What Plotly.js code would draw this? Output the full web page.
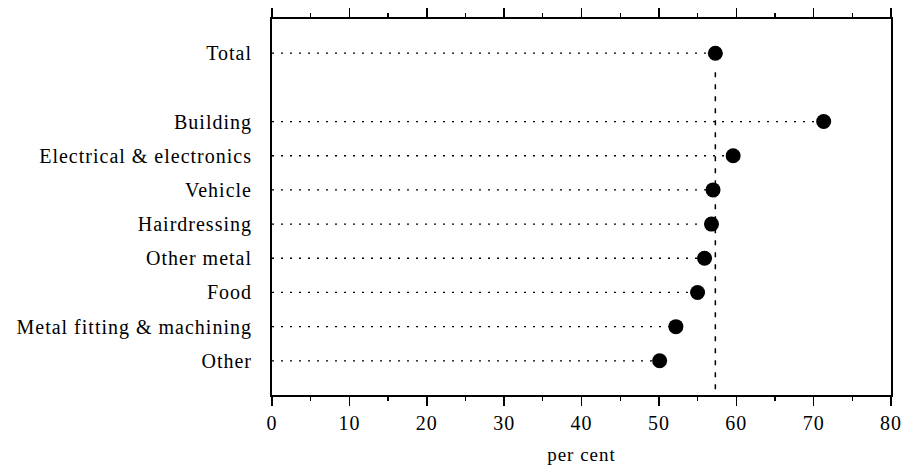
<!DOCTYPE html>
<html>
<head>
<meta charset="utf-8">
<script src="https://cdn.plot.ly/plotly-3.0.1.min.js"></script>
<style>
html,body{margin:0;padding:0;background:#fff;}
#chart{width:906px;height:468px;}
#chart text{letter-spacing:1px;}
</style>
</head>
<body>
<div id="chart"></div>
<script>
// Data
const categories = ["Total", "Building", "Electrical & electronics", "Vehicle", "Hairdressing", "Other metal", "Food", "Metal fitting & machining", "Other"];
const positions = [10, 8, 7, 6, 5, 4, 3, 2, 1];
const values = [57.3, 71.3, 59.6, 57.0, 56.8, 55.9, 55.0, 52.2, 50.1];
const xTickVals = [0, 10, 20, 30, 40, 50, 60, 70, 80];

// Build dotted leader lines from the data
const lx = [], ly = [];
for (let i = 0; i < values.length; i++) {
  lx.push(0, values[i], null);
  ly.push(positions[i], positions[i], null);
}
const totalVal = values[0];
const totalPos = positions[0];

const traces = [
  {x: lx, y: ly, mode: 'lines', type: 'scatter', hoverinfo: 'skip',
   line: {color: '#000', width: 1.3, dash: '2px,7px'}, showlegend: false},
  {x: [totalVal, totalVal], y: [totalPos - 0.56, 0], mode: 'lines', type: 'scatter',
   line: {color: '#000', width: 1.5, dash: '5px,7px'}, showlegend: false, hoverinfo: 'skip'},
  {x: values, y: positions, mode: 'markers', type: 'scatter',
   marker: {color: '#000', size: 15}, showlegend: false}
];

const FONT = "'Liberation Serif', 'Times New Roman', 'DejaVu Serif', Times, serif";

const layout = {
  width: 906, height: 468,
  margin: {l: 272, r: 15, t: 19, b: 73},
  paper_bgcolor: '#fff', plot_bgcolor: '#fff',
  font: {family: FONT, color: '#000', size: 20},
  xaxis: {
    range: [0, 80], tickvals: xTickVals, ticktext: xTickVals.map(String),
    showgrid: false, zeroline: false, showline: true, linecolor: '#000', linewidth: 2,
    mirror: 'ticks', ticks: 'outside', ticklen: 9, tickwidth: 1.5, tickcolor: '#000',
    minor: {dtick: 5, tick0: 0, ticks: 'outside', ticklen: 4, tickwidth: 1.2, tickcolor: '#000', showgrid: false},
    tickfont: {family: FONT, size: 20},
    title: {text: 'per cent', font: {family: FONT, size: 19}, standoff: 15}
  },
  yaxis: {
    range: [0, 11], tickvals: positions, ticktext: categories,
    showgrid: false, zeroline: false, showline: true, linecolor: '#000', linewidth: 2,
    mirror: true, ticks: '', ticklabelstandoff: 14, tickfont: {family: FONT, size: 20}
  }
};

Plotly.newPlot('chart', traces, layout, {displayModeBar: false, staticPlot: true});
</script>
</body>
</html>
